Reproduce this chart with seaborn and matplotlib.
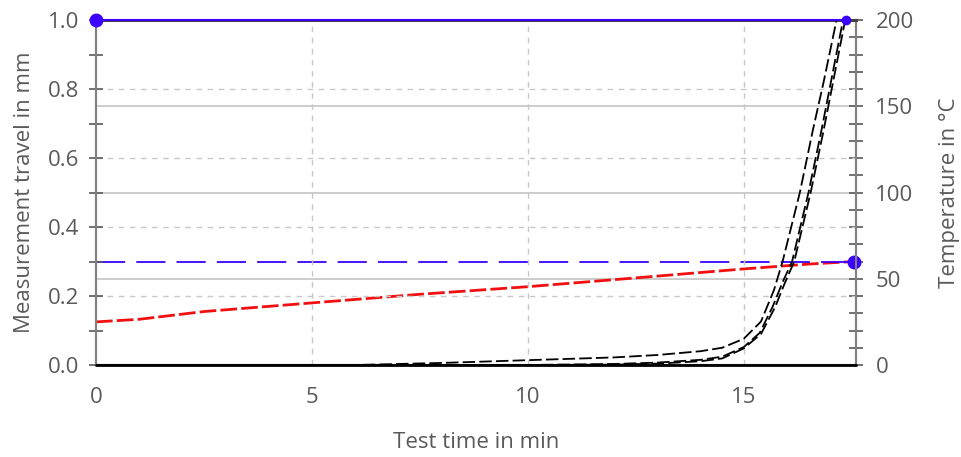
import numpy as np
import pandas as pd
import matplotlib
matplotlib.use("Agg")
import matplotlib.pyplot as plt
from matplotlib.ticker import MultipleLocator
import seaborn as sns

# measurement travel curves (mm) vs test time (min)
time_a = [0, 6, 7, 8, 9, 10, 11, 12, 13, 14, 14.5, 15, 15.4, 15.7, 15.9, 16.1, 16.3, 16.6, 16.85, 17.15]
travel_a = [0, 0, 0.003, 0.006, 0.010, 0.014, 0.018, 0.022, 0.029, 0.040, 0.050, 0.076, 0.126, 0.217, 0.30, 0.40, 0.50, 0.68, 0.82, 1.0]
time_b = [0, 10, 12, 13, 14, 14.5, 15, 15.37, 15.67, 15.9, 16.12, 16.5, 16.8, 17.05, 17.3]
travel_b = [0, 0, 0.003, 0.007, 0.015, 0.024, 0.052, 0.093, 0.169, 0.24, 0.30, 0.50, 0.68, 0.84, 1.0]
time_c = [0, 10, 12, 13, 14, 14.5, 15, 15.4, 15.72, 15.95, 16.17, 16.55, 16.85, 17.1, 17.35]
travel_c = [0, 0, 0.001, 0.004, 0.011, 0.019, 0.048, 0.09, 0.166, 0.237, 0.30, 0.50, 0.68, 0.84, 1.0]

# temperature (°C)
temp_time = [0, 1, 2.5, 5, 7.5, 10, 12.5, 15, 16.5, 17.55]
temp_vals = [25, 26.5, 31, 36, 41, 45.4, 50.5, 55.7, 58.5, 60]

# limits / markers
travel_limit = 1.0
limit_end = 17.38
target_temp = 60
target_end = 17.55

sns.set_style("white")
plt.rcParams["font.family"] = ["Open Sans", "DejaVu Sans"]
plt.rcParams["lines.scale_dashes"] = False

grey = "#5a5a5a"
blue = "#3c00ff"
fs = 16

fig = plt.figure(figsize=(9.62, 4.57), dpi=100)
ax1 = fig.add_axes([0.0998, 0.2013, 0.79, 0.7549])
ax2 = ax1.twinx()

ax1.set_xlim(0, 17.6)
ax1.set_ylim(0, 1.0)
ax2.set_ylim(0, 200)

# grids
for v in [0.2, 0.4, 0.6, 0.8]:
    ax1.axhline(v, color="#c8c8c8", lw=1, ls=(0, (4, 4)), zorder=0)
for v in [5, 10, 15]:
    ax1.axvline(v, color="#c8c8c8", lw=1, ls=(0, (4, 4)), zorder=0)
for v in [50, 100, 150]:
    ax2.axhline(v, color="#c4c4c4", lw=1.2, zorder=0)

# temperature line and target
temp_df = pd.DataFrame({"t": temp_time, "T": temp_vals})
sns.lineplot(data=temp_df, x="t", y="T", ax=ax2, color="#f01010", lw=2,
             linestyle=(0, (12, 3)), zorder=3)
ax2.plot([0, target_end], [target_temp, target_temp], color=blue, lw=1.3,
         linestyle=(0, (21, 8)), zorder=3)
ax2.plot([target_end], [target_temp], "o", color=blue, ms=9, zorder=5, clip_on=False)

# travel curves
for tt, mm, off in [(time_a, travel_a, 0), (time_b, travel_b, 4), (time_c, travel_c, 8)]:
    d = pd.DataFrame({"t": tt, "mm": mm})
    sns.lineplot(data=d, x="t", y="mm", ax=ax1, color="black", lw=1.3,
                 linestyle=(off, (9, 3)), zorder=4)
ax1.plot([0, 17.6], [0, 0], color="black", lw=2, zorder=3, clip_on=False)

# travel limit
ax1.plot([0, limit_end], [travel_limit, travel_limit], color=blue, lw=1.5, zorder=4, clip_on=False)
ax1.plot([0], [travel_limit], "o", color=blue, ms=9, zorder=6, clip_on=False)
ax1.plot([limit_end], [travel_limit], "o", color=blue, ms=6, zorder=6, clip_on=False)

ax1.set_zorder(ax2.get_zorder() + 1)
ax1.patch.set_visible(False)

# ticks
ax1.xaxis.set_major_locator(MultipleLocator(5))
ax1.xaxis.set_minor_locator(MultipleLocator(1))
ax1.yaxis.set_major_locator(MultipleLocator(0.2))
ax1.yaxis.set_minor_locator(MultipleLocator(0.1))
ax2.yaxis.set_major_locator(MultipleLocator(50))
ax2.yaxis.set_minor_locator(MultipleLocator(10))
ax1.yaxis.set_major_formatter(plt.FormatStrFormatter("%.1f"))

for ax in (ax1, ax2):
    ax.tick_params(which="both", direction="inout", length=10, width=1.2,
                   color=grey, labelcolor=grey, labelsize=fs)
ax1.tick_params(axis="x", pad=11)
ax1.tick_params(axis="y", pad=7)
ax2.tick_params(axis="y", pad=9)

for ax in (ax1, ax2):
    for s in ["left", "right", "bottom"]:
        ax.spines[s].set_color("#808080")
        ax.spines[s].set_linewidth(1.5)
    ax.spines["top"].set_color("#404040")
    ax.spines["top"].set_linewidth(2)

ax1.set_xlabel("Test time in min", color=grey, fontsize=fs, labelpad=17)
ax1.set_ylabel("Measurement travel in mm", color=grey, fontsize=fs, labelpad=9)
ax2.set_ylabel("Temperature in °C", color=grey, fontsize=fs, labelpad=18)

fig.savefig("out.png", dpi=100)
